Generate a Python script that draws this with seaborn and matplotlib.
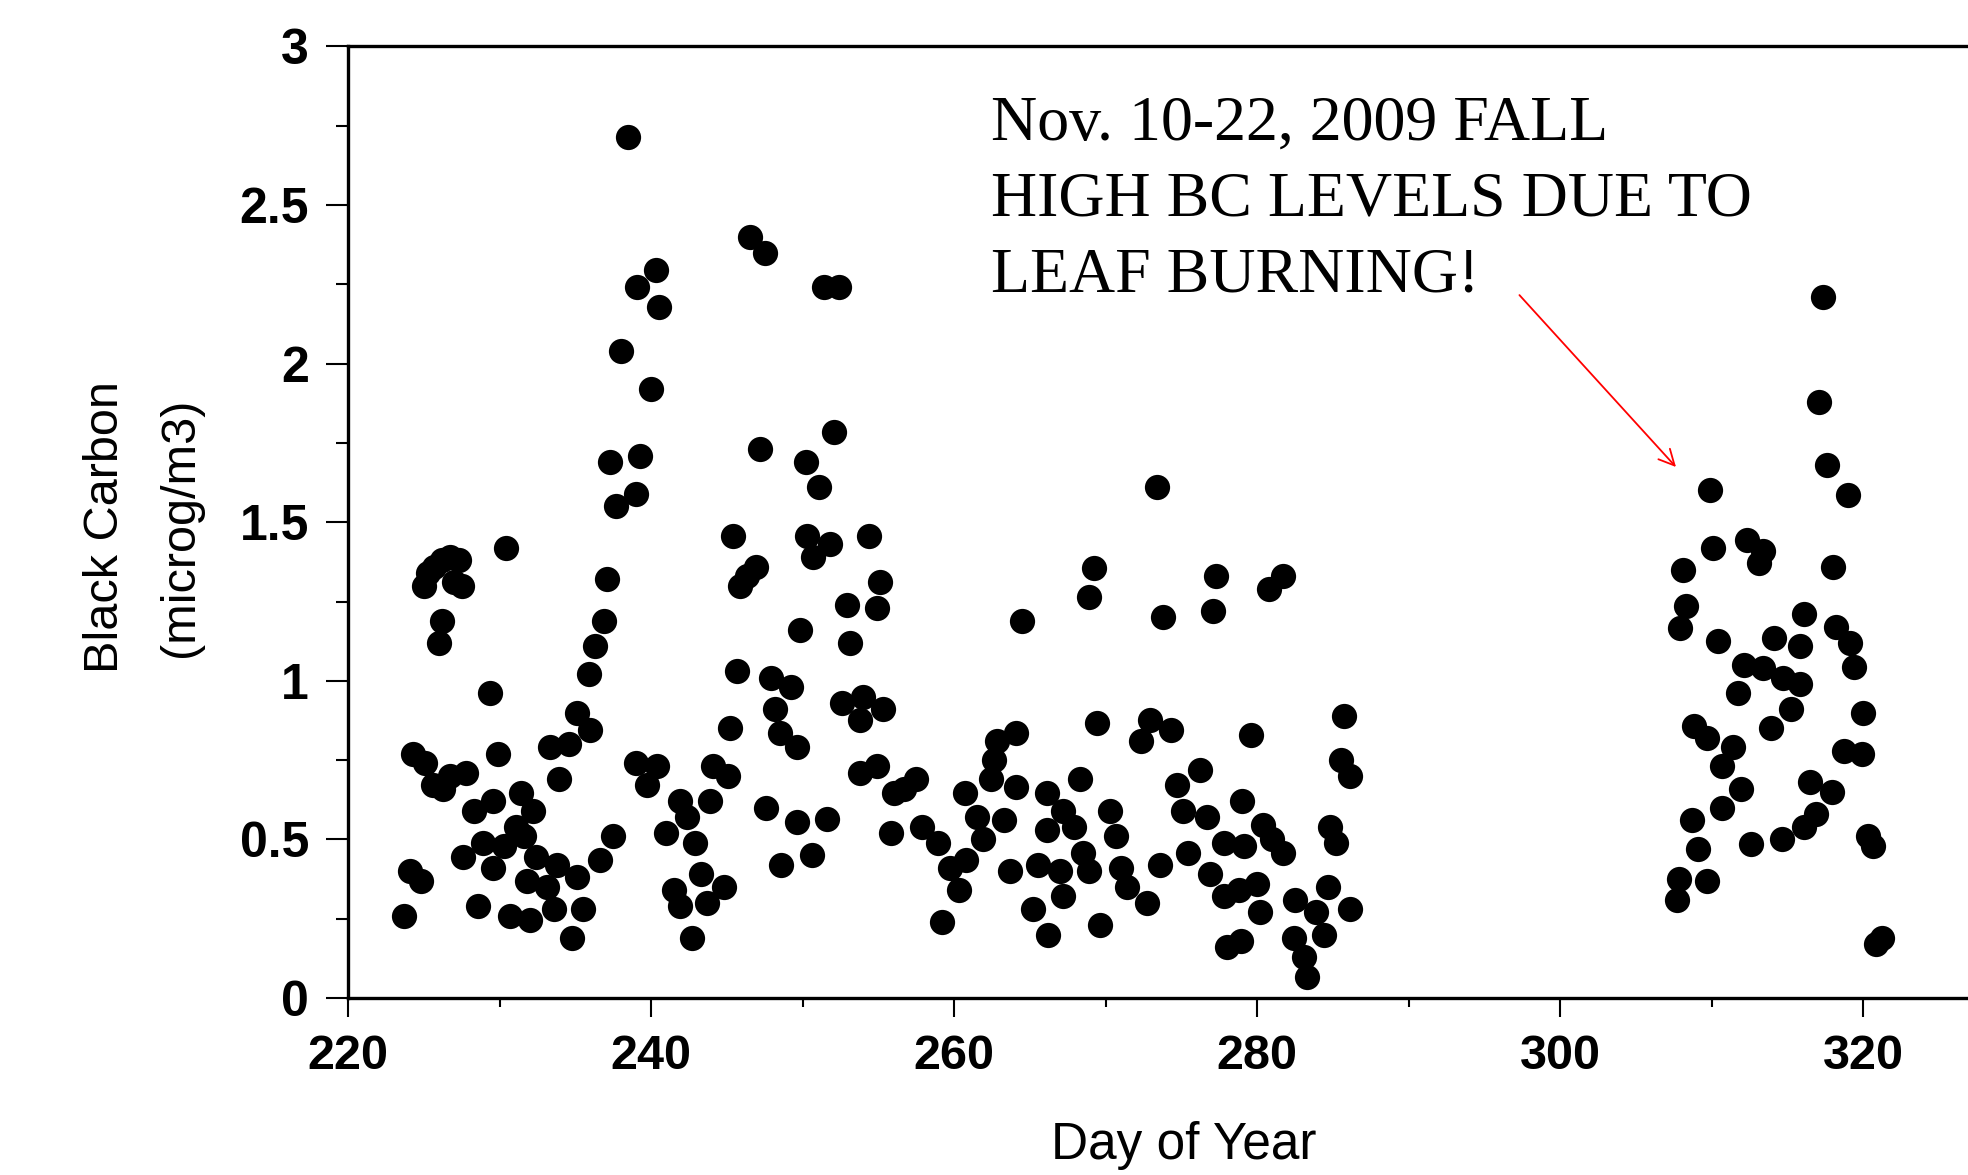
import numpy as np
import pandas as pd
import seaborn as sns
import matplotlib.pyplot as plt
from matplotlib.ticker import MultipleLocator

# day of year / black carbon (microg/m3)
day = [223.7, 224.1, 224.8, 224.3, 225.1, 225.0, 225.3, 225.7, 226.2, 226.7,
       227.3, 227.0, 227.5, 226.2, 226.0, 225.6, 226.3, 226.7, 227.8, 228.3,
       229.6, 231.4, 232.2, 231.1, 227.6, 228.9, 230.3, 231.6, 229.6, 232.4,
       233.8, 231.8, 233.1, 235.1, 236.6, 228.6, 230.7, 232.0, 233.6, 235.5,
       234.8, 229.4, 229.9, 230.4, 233.9, 233.3, 234.6, 235.1, 236.0, 235.9,
       236.3, 236.9, 237.1, 237.5, 237.7, 239.0, 240.4, 239.7,
       238.5, 246.5, 247.5, 240.3, 239.1, 240.5, 251.4, 252.4, 238.0, 240.0,
       252.1, 237.3, 239.3, 247.2, 250.2, 251.1, 239.0,
       245.4, 250.3, 251.8, 250.7, 254.4, 246.9, 246.3, 245.9, 255.1, 252.9,
       254.9, 249.8, 253.1, 245.7, 247.9, 249.2, 248.2, 252.6, 254.0, 255.3,
       253.8, 245.2, 248.5, 249.6, 244.1, 245.1, 253.8, 254.9, 256.0, 256.7,
       257.5, 241.9, 242.4, 243.9, 247.6, 249.6, 251.6, 255.8, 241.0, 242.9,
       257.9, 258.9, 259.7, 248.6, 250.6, 243.3, 241.5, 244.8, 243.7, 241.9,
       242.7, 259.2,
       264.5, 269.2, 268.9, 273.4, 273.8, 277.3, 277.1, 269.4, 272.9, 274.3,
       272.3, 264.1, 262.8, 262.6, 262.4, 264.1, 266.1, 268.3, 267.2, 260.7,
       261.5, 263.3, 261.9, 260.8, 260.3, 270.3, 266.1, 267.9, 268.5, 268.9,
       270.7, 271.0, 271.4, 272.7, 273.6, 276.2, 274.7, 275.1, 276.7, 277.8,
       275.4, 276.9, 277.8, 278.8, 278.0, 278.9, 263.7, 265.5, 267.0, 267.2,
       265.2, 266.2, 269.6,
       281.7, 280.8, 279.6, 285.7, 285.5, 286.1, 279.0, 280.4, 279.1, 281.7,
       281.0, 284.8, 285.2, 280.0, 280.2, 282.5, 284.7, 283.9, 282.4, 284.4,
       283.1, 283.3, 286.1,
       317.3, 317.1, 317.6, 319.0, 309.9, 310.1, 312.3, 313.4, 313.1, 308.1,
       318.0, 308.3, 307.9, 316.1, 318.2, 319.1, 319.4, 310.4, 314.1, 315.8,
       312.1, 313.4, 314.7, 315.8, 315.2, 311.7, 320.0, 308.8, 309.7, 313.9,
       311.4, 310.7, 318.7, 319.9, 316.5, 317.9, 311.9, 310.7, 316.9, 316.1,
       308.7, 309.1, 312.6, 314.6, 320.3, 320.6, 307.8, 309.7, 307.7, 320.8,
       321.2]
bc = [0.26, 0.40, 0.37, 0.77, 0.74, 1.30, 1.34, 1.36, 1.38, 1.39,
      1.38, 1.31, 1.30, 1.19, 1.12, 0.67, 0.66, 0.70, 0.71, 0.59,
      0.62, 0.645, 0.59, 0.54, 0.445, 0.49, 0.48, 0.51, 0.41, 0.445,
      0.42, 0.37, 0.35, 0.38, 0.435, 0.29, 0.26, 0.245, 0.28, 0.28,
      0.19, 0.96, 0.77, 1.42, 0.69, 0.79, 0.80, 0.90, 0.845, 1.02,
      1.11, 1.19, 1.32, 0.51, 1.55, 0.74, 0.73, 0.67,
      2.715, 2.40, 2.35, 2.295, 2.24, 2.18, 2.24, 2.24, 2.04, 1.92,
      1.785, 1.69, 1.71, 1.73, 1.69, 1.61, 1.59,
      1.455, 1.455, 1.43, 1.39, 1.455, 1.36, 1.33, 1.30, 1.31, 1.24,
      1.23, 1.16, 1.12, 1.03, 1.01, 0.98, 0.91, 0.93, 0.95, 0.91,
      0.875, 0.85, 0.835, 0.79, 0.73, 0.70, 0.71, 0.73, 0.645, 0.66,
      0.69, 0.62, 0.57, 0.62, 0.60, 0.555, 0.565, 0.52, 0.52, 0.49,
      0.54, 0.49, 0.41, 0.42, 0.45, 0.39, 0.34, 0.35, 0.30, 0.29,
      0.19, 0.24,
      1.19, 1.355, 1.265, 1.61, 1.20, 1.33, 1.22, 0.866, 0.876, 0.845,
      0.81, 0.834, 0.81, 0.75, 0.69, 0.666, 0.645, 0.69, 0.59, 0.645,
      0.57, 0.56, 0.50, 0.435, 0.34, 0.59, 0.53, 0.54, 0.456, 0.40,
      0.51, 0.41, 0.35, 0.30, 0.42, 0.72, 0.67, 0.59, 0.57, 0.49,
      0.456, 0.39, 0.32, 0.34, 0.16, 0.18, 0.40, 0.42, 0.40, 0.32,
      0.28, 0.20, 0.23,
      1.33, 1.29, 0.83, 0.89, 0.75, 0.70, 0.62, 0.545, 0.48, 0.456,
      0.50, 0.54, 0.49, 0.36, 0.27, 0.31, 0.35, 0.27, 0.19, 0.20,
      0.13, 0.067, 0.28,
      2.21, 1.88, 1.68, 1.585, 1.60, 1.42, 1.445, 1.41, 1.37, 1.35,
      1.36, 1.235, 1.165, 1.21, 1.17, 1.12, 1.045, 1.125, 1.135, 1.11,
      1.05, 1.04, 1.01, 0.99, 0.91, 0.96, 0.90, 0.857, 0.82, 0.85,
      0.79, 0.73, 0.78, 0.77, 0.68, 0.65, 0.66, 0.60, 0.58, 0.54,
      0.56, 0.47, 0.485, 0.50, 0.51, 0.48, 0.375, 0.37, 0.31, 0.17,
      0.19]

yticks = [0, 0.5, 1, 1.5, 2, 2.5, 3]
ytick_labels = ['0', '0.5', '1', '1.5', '2', '2.5', '3']
xticks = [220, 240, 260, 280, 300, 320]
note = "Nov. 10-22, 2009 FALL\nHIGH BC LEVELS DUE TO\nLEAF BURNING!"

sns.set_style("white")
plt.rcParams['font.family'] = ['Liberation Sans', 'DejaVu Sans']
plt.rcParams['text.color'] = 'black'
plt.rcParams['axes.labelcolor'] = 'black'
plt.rcParams['xtick.color'] = 'black'
plt.rcParams['ytick.color'] = 'black'

fig = plt.figure(figsize=(19.68, 11.75), dpi=100)
ax = fig.add_axes([348/1968, 1 - 998/1175, 1620/1968, 951.6/1175])

df = pd.DataFrame({'day': day, 'bc': bc})
sns.scatterplot(data=df, x='day', y='bc', color='black', s=330,
                linewidth=0, ax=ax, legend=False)

ax.set_xlim(220, 326.9)
ax.set_ylim(0, 3)
ax.set_xticks(xticks)
ax.set_xticklabels([str(t) for t in xticks], fontweight='bold', fontsize=35)
ax.set_yticks(yticks)
ax.set_yticklabels(ytick_labels, fontweight='bold', fontsize=36)
ax.xaxis.set_minor_locator(MultipleLocator(10))
ax.yaxis.set_minor_locator(MultipleLocator(0.25))
ax.tick_params(which='major', direction='out', length=16, width=1.5,
               color='black', labelcolor='black', bottom=True, left=True)
ax.tick_params(axis='y', which='major', pad=12)
ax.tick_params(axis='x', which='major', length=14, pad=12)
ax.tick_params(axis='y', which='minor', direction='out', length=8.5,
               width=1.5, color='black', left=True)
ax.tick_params(axis='x', which='minor', direction='out', length=6.5,
               width=1.5, color='black', bottom=True)

for side in ['left', 'bottom', 'top']:
    ax.spines[side].set_color('black')
    ax.spines[side].set_linewidth(2.4)
ax.spines['right'].set_visible(False)

ax.set_xlabel('Day of Year', fontsize=37, va='center', color='black')
ax.xaxis.set_label_coords(0.516, -0.1555)
ax.set_ylabel('Black Carbon\n(microg/m3)', fontsize=35, va='center',
              linespacing=1.85, color='black')
ax.yaxis.set_label_coords(-0.1265, 0.495)

ax.text(991/1968, 1 - 96/1175, note, transform=fig.transFigure,
        family=['Liberation Serif', 'DejaVu Serif'], fontsize=46,
        color='black', ha='left', va='top', linespacing=1.4)
ax.annotate('', xy=(307.63, 1.674), xytext=(297.3, 2.216),
            arrowprops=dict(arrowstyle='->', color='red', lw=1.3,
                            mutation_scale=28, shrinkA=0, shrinkB=0))

fig.savefig('out.png', dpi=100)
